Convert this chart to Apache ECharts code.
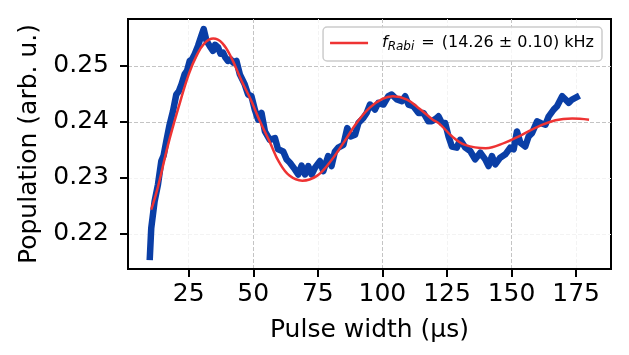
<!DOCTYPE html>
<html>
<head>
<meta charset="utf-8">
<script src="https://cdn.jsdelivr.net/npm/echarts@6/dist/echarts.min.js"></script>
<style>
html,body{margin:0;padding:0;background:#fff;}
#c{width:629px;height:355px;}
</style>
</head>
<body>
<div id="c"></div>
<script>
// Measured data (pulse width in µs, population in arb. u.)
const dataX = [9.9,10.5,11.8,13.1,14.4,15.3,16.3,17.6,18.9,20.2,21.2,22.2,23.4,24.4,25.4,26.3,27.3,28.6,29.9,30.8,31.9,33.1,34.4,35.2,36.4,37.3,38.3,39.2,40.2,41.2,42.2,43.5,44.8,46.7,48.0,49.3,50.6,51.9,53.2,54.5,56.4,58.4,59.6,61.6,62.9,64.2,66.1,67.4,68.7,70.0,71.3,72.6,73.9,75.8,77.1,79.0,80.3,81.6,82.9,84.9,86.4,87.7,89.4,90.7,92.6,93.9,95.2,97.1,98.4,100.4,102.3,103.6,105.6,107.5,108.8,110.1,112.0,114.0,115.9,117.8,119.1,120.5,121.7,123.0,124.3,125.6,126.9,128.8,130.1,132.1,134.0,135.9,137.9,139.8,141.1,142.4,143.7,145.6,147.6,149.5,150.8,152.1,153.4,155.3,156.6,157.9,159.9,161.2,163.1,164.4,166.3,167.6,169.6,170.9,172.1,173.4,176.3];
const dataY = [0.2153,0.2210,0.2258,0.2288,0.2330,0.2340,0.2365,0.2395,0.2419,0.2449,0.2455,0.2467,0.2485,0.2492,0.2509,0.2512,0.2521,0.2536,0.2554,0.2566,0.2545,0.2536,0.2527,0.2538,0.2533,0.2522,0.2524,0.2515,0.2509,0.2512,0.2506,0.2509,0.2485,0.2467,0.2449,0.2446,0.2422,0.2404,0.2416,0.2383,0.2368,0.2371,0.2351,0.2347,0.2333,0.2327,0.2315,0.2306,0.2322,0.2306,0.2321,0.2306,0.2318,0.2330,0.2312,0.2339,0.2321,0.2347,0.2354,0.2359,0.2389,0.2374,0.2377,0.2398,0.2407,0.2416,0.2431,0.2422,0.2434,0.2431,0.2446,0.2449,0.2440,0.2437,0.2446,0.2431,0.2428,0.2416,0.2416,0.2401,0.2401,0.2405,0.2410,0.2398,0.2398,0.2374,0.2356,0.2354,0.2368,0.2354,0.2348,0.2333,0.2345,0.2333,0.2321,0.2339,0.2324,0.2336,0.2342,0.2354,0.2351,0.2383,0.2363,0.2356,0.2374,0.2380,0.2401,0.2398,0.2395,0.2410,0.2422,0.2428,0.2446,0.2440,0.2434,0.2440,0.2447];

// Fit curve
const fitX = [10.5,13,17,21,25,28,31,34.5,38,41.5,45.5,49,52.5,56.5,60,64,69,74.5,79.5,85,90,95,100,104,109.5,114.5,119.5,122,127,132,140,147.5,154,160.5,167,173.5,180];
const fitY = [0.2243,0.2282,0.2359,0.2425,0.2485,0.2518,0.2540,0.2549,0.2541,0.2515,0.2473,0.2440,0.2402,0.2363,0.2328,0.2304,0.2295,0.2303,0.2327,0.2363,0.2398,0.2425,0.2441,0.2446,0.2440,0.2423,0.2404,0.2397,0.2374,0.2359,0.2353,0.2363,0.2377,0.2392,0.2403,0.2406,0.2404];

const xTicks = [25,50,75,100,125,150,175];
const yTicks = [0.22,0.23,0.24,0.25];

const xLabel = 'Pulse width (μs)';
const yLabel = 'Population (arb. u.)';
const fitName = 'fit';

const FONT = 'DejaVu Sans';

const measured = dataX.map((x,i)=>[x,dataY[i]]);
const fitted = fitX.map((x,i)=>[x,fitY[i]]);

const chart = echarts.init(document.getElementById('c'), null, {renderer:'canvas'});
chart.setOption({
  animation:false,
  backgroundColor:'#fff',
  grid:{left:128,right:18,top:19,bottom:86,show:true,borderColor:'#000',borderWidth:2,backgroundColor:'transparent'},
  legend:{
    data:[{name:fitName,icon:'rect'}],
    right:27, top:27,
    backgroundColor:'rgba(255,255,255,0.85)',
    borderColor:'#cccccc', borderWidth:1.5, borderRadius:4,
    padding:[8,8,8,7],
    itemWidth:38, itemHeight:2.5,
    formatter:()=>'{f|f}{s|Rabi}{e|=}{t|(14.26 ± 0.10) kHz}',
    textStyle:{
      fontFamily:FONT, color:'#000', fontSize:16,
      rich:{
        f:{fontFamily:FONT,fontStyle:'italic',fontSize:16,color:'#000',lineHeight:20,padding:[0,0,0,9]},
        s:{fontFamily:FONT,fontStyle:'italic',fontSize:12,color:'#000',lineHeight:8,verticalAlign:'bottom',padding:[0,0,0,0]},
        e:{fontFamily:FONT,fontSize:16,color:'#000',lineHeight:20,padding:[0,7,0,7]},
        t:{fontFamily:FONT,fontSize:16,color:'#000',lineHeight:20}
      }
    }
  },
  xAxis:{
    type:'value', min:1.5, max:188.5,
    name:xLabel, nameLocation:'middle', nameGap:49,
    nameTextStyle:{fontFamily:FONT,fontSize:25,color:'#000'},
    axisLine:{show:true,onZero:false,lineStyle:{color:'#000',width:2}},
    axisTick:{show:true,inside:false,length:8,lineStyle:{color:'#000',width:2},customValues:xTicks},
    axisLabel:{fontFamily:FONT,fontSize:25,color:'#000',margin:13,customValues:xTicks},
    splitLine:{show:true,lineStyle:{type:[4,2],width:1,color:['#f3f3f3','#c4c4c4']}}
  },
  yAxis:{
    type:'value', min:0.2137, max:0.2584,
    name:yLabel, nameLocation:'middle', nameGap:86,
    nameTextStyle:{fontFamily:FONT,fontSize:25,color:'#000'},
    axisLine:{show:true,onZero:false,lineStyle:{color:'#000',width:2}},
    axisTick:{show:true,inside:false,length:8,lineStyle:{color:'#000',width:2},customValues:yTicks},
    axisLabel:{fontFamily:FONT,fontSize:25,color:'#000',margin:19,customValues:yTicks,formatter:v=>v.toFixed(2)},
    splitLine:{show:true,lineStyle:{type:[4,2],width:1,color:['#f3f3f3','#f3f3f3','#c4c4c4','#c4c4c4']}}
  },
  series:[
    {type:'line',name:'data',data:measured,symbol:'none',smooth:false,
     lineStyle:{color:'#0a3ea6',width:6.5,join:'round'},itemStyle:{color:'#0a3ea6'},z:2},
    {type:'line',name:fitName,data:fitted,symbol:'none',smooth:0.4,
     lineStyle:{color:'#ee3333',width:2.5},itemStyle:{color:'#ee3333'},z:3}
  ]
});
</script>
</body>
</html>
